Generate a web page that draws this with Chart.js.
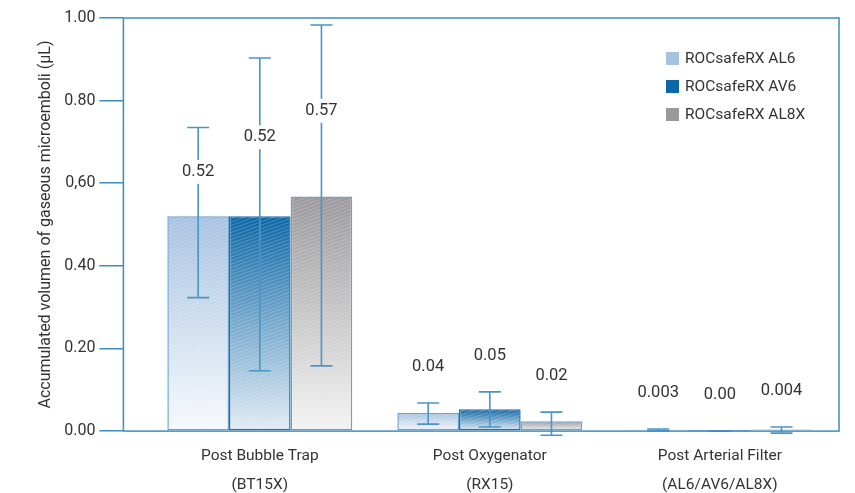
<!DOCTYPE html>
<html>
<head>
<meta charset="utf-8">
<script src="https://cdn.jsdelivr.net/npm/chart.js@4.4.0/dist/chart.umd.min.js"></script>
<style>
  html, body { margin: 0; padding: 0; background: #fff; }
  #wrap { width: 855px; height: 493px; }
</style>
</head>
<body>
<div id="wrap"><canvas id="myChart"></canvas></div>
<script>
// categories (two-line labels)
const categories = [
    ['Post Bubble Trap', '(BT15X)'],
    ['Post Oxygenator', '(RX15)'],
    ['Post Arterial Filter', '(AL6/AV6/AL8X)']
]
const seriesNames = ['ROCsafeRX AL6', 'ROCsafeRX AV6', 'ROCsafeRX AL8X']

// bar values
const al6Values  = [0.52, 0.044, 0.003]
const av6Values  = [0.52, 0.053, 0.0005]
const al8xValues = [0.568, 0.024, 0.004]

// error bar ends
const al6Low   = [0.323, 0.017, 0.001]
const al6High  = [0.735, 0.068, 0.005]
const av6Low   = [0.146, 0.010, 0.000]
const av6High  = [0.903, 0.095, 0.001]
const al8xLow  = [0.158, -0.010, -0.005]
const al8xHigh = [0.983, 0.046, 0.010]

// printed value labels
const al6Labels  = ['0.52', '0.04', '0.003']
const av6Labels  = ['0.52', '0.05', '0.00']
const al8xLabels = ['0.57', '0.02', '0.004']

// y tick labels as printed (note the comma on 0,60)
const yTickLabels = { '0': '0.00', '0.2': '0.20', '0.4': '0.40', '0.6': '0,60', '0.8': '0.80', '1': '1.00' }

const FONT = 'Roboto, "Liberation Sans", Arial, sans-serif'
const AXIS = '#3d8cc4'
const ERR = '#4a94c6'

const fills = [
    { top: '#a6c2e1', bottom: '#f7f9fc', border: '#6aa3d2' },
    { top: '#0c67a6', bottom: '#e3ecf5', border: '#1d6fa9' },
    { top: '#9a9a9c', bottom: '#f4f4f4', border: '#6b9fc8' }
]

function gradientFor(i) {
    return function (ctx) {
        const chart = ctx.chart
        const y = chart.scales.y
        if (!y || ctx.raw == null) return fills[i].top
        const y0 = y.getPixelForValue(0)
        const y1 = y.getPixelForValue(ctx.raw.y)
        if (!isFinite(y0) || !isFinite(y1) || y0 === y1) return fills[i].top
        // very short bars keep their solid colour
        if (y0 - y1 < 4) return fills[i].top
        const g = chart.ctx.createLinearGradient(0, y1, 0, y0)
        g.addColorStop(0, fills[i].top)
        g.addColorStop(1, fills[i].bottom)
        return g
    }
}

const toPoints = arr => arr.map((v, i) => ({ x: i, y: v }))

const errorBars = {
    id: 'errorBars',
    afterDatasetsDraw(chart) {
        const ctx = chart.ctx
        const y = chart.scales.y
        chart.data.datasets.forEach((ds, di) => {
            const meta = chart.getDatasetMeta(di)
            meta.data.forEach((bar, i) => {
                // faint diagonal texture inside the bar
                const left = bar.x - bar.width / 2, h = bar.base - bar.y
                if (h > 2) {
                    ctx.save()
                    ctx.beginPath()
                    ctx.rect(left + 1, bar.y + 1, bar.width - 2, h - 2)
                    ctx.clip()
                    ctx.strokeStyle = 'rgba(255,255,255,0.22)'
                    ctx.lineWidth = 1
                    ctx.beginPath()
                    for (let s = bar.y - 40; s < bar.base + 40; s += 3.5) {
                        ctx.moveTo(left, s + 22)
                        ctx.lineTo(left + bar.width, s)
                    }
                    ctx.stroke()
                    ctx.restore()
                }

                const top = y.getPixelForValue(ds.errHigh[i])
                const bot = y.getPixelForValue(ds.errLow[i])
                const barTop = y.getPixelForValue(ds.data[i].y)
                const x = bar.x
                ctx.save()
                ctx.strokeStyle = ERR
                ctx.lineWidth = 1.6
                ctx.beginPath()
                ctx.moveTo(x, top); ctx.lineTo(x, bot)
                ctx.moveTo(x - 11, top); ctx.lineTo(x + 11, top)
                ctx.moveTo(x - 11, bot); ctx.lineTo(x + 11, bot)
                ctx.stroke()

                // value label
                const roomy = barTop - top > 60
                const ly = roomy ? (barTop + top) / 2 : top - 36
                ctx.font = '16.5px ' + FONT
                const txt = ds.valueLabels[i]
                const w = ctx.measureText(txt).width
                if (roomy) {
                    ctx.fillStyle = '#fff'
                    ctx.fillRect(x - w / 2 - 3, ly - 12, w + 6, 24)
                }
                ctx.fillStyle = '#333'
                ctx.textAlign = 'center'
                ctx.textBaseline = 'middle'
                ctx.fillText(txt, x, ly)
                ctx.restore()
            })
        })
    }
}

const frame = {
    id: 'frame',
    afterDraw(chart) {
        const a = chart.chartArea
        const ctx = chart.ctx
        ctx.save()
        ctx.strokeStyle = AXIS
        ctx.lineWidth = 1.5
        ctx.strokeRect(a.left, a.top, a.right - a.left, a.bottom - a.top)
        ctx.restore()
    }
}

const boxLegend = {
    id: 'boxLegend',
    afterDraw(chart) {
        const ctx = chart.ctx
        const a = chart.chartArea
        const x0 = a.right - 173
        let yy = a.top + 40
        ctx.save()
        ctx.font = '15.5px ' + FONT
        ctx.textBaseline = 'middle'
        chart.data.datasets.forEach((ds, i) => {
            ctx.fillStyle = ds.legendColor
            ctx.fillRect(x0, yy - 6, 13, 13)
            ctx.fillStyle = '#333'
            ctx.fillText(ds.label, x0 + 19, yy + 1)
            yy += 28
        })
        ctx.restore()
    }
}

const datasets = [
    { label: seriesNames[0], data: toPoints(al6Values), errLow: al6Low, errHigh: al6High, valueLabels: al6Labels, legendColor: '#a6c2e1' },
    { label: seriesNames[1], data: toPoints(av6Values), errLow: av6Low, errHigh: av6High, valueLabels: av6Labels, legendColor: '#0c67a6' },
    { label: seriesNames[2], data: toPoints(al8xValues), errLow: al8xLow, errHigh: al8xHigh, valueLabels: al8xLabels, legendColor: '#9a9a9c' }
].map((d, i) => Object.assign(d, {
    backgroundColor: gradientFor(i),
    borderColor: fills[i].border,
    borderWidth: 1.5,
    borderSkipped: false,
    categoryPercentage: 0.804,
    barPercentage: 1.0
}))

new Chart(document.getElementById('myChart').getContext('2d'), {
    type: 'bar',
    data: { datasets: datasets },
    plugins: [errorBars, frame, boxLegend],
    options: {
        responsive: true,
        maintainAspectRatio: false,
        animation: false,
        layout: { padding: { top: 18, right: 16, left: 36, bottom: -17 } },
        plugins: { legend: { display: false }, tooltip: { enabled: false } },
        scales: {
            x: {
                type: 'linear',
                offset: false,
                min: -0.593,
                max: 2.518,
                afterBuildTicks(scale) {
                    scale.ticks = categories.map((c, i) => ({ value: i }))
                },
                grid: { display: false, drawTicks: false },
                border: { display: false },
                ticks: {
                    padding: 10,
                    color: '#333',
                    font: { family: FONT, size: 15.5, lineHeight: 1.9 },
                    maxRotation: 0,
                    autoSkip: false,
                    callback: v => categories[Math.round(v)]
                }
            },
            y: {
                min: 0,
                max: 1,
                grid: { drawOnChartArea: false, drawTicks: true, tickLength: 24, color: AXIS, lineWidth: 1.5 },
                border: { display: false },
                ticks: {
                    stepSize: 0.2,
                    padding: 4,
                    color: '#333',
                    font: { family: FONT, size: 16 },
                    callback: v => yTickLabels[String(Math.round(v * 10) / 10)]
                },
                title: {
                    display: true,
                    text: 'Accumulated volumen of gaseous microemboli (µL)',
                    color: '#333',
                    font: { family: FONT, size: 16 },
                    padding: { top: 0, bottom: 5 }
                }
            }
        }
    }
})
</script>
</body>
</html>
